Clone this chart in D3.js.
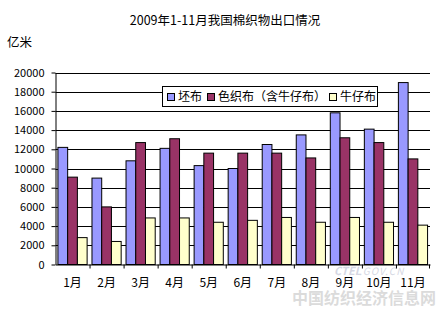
<!DOCTYPE html>
<html>
<head>
<meta charset="utf-8">
<script src="https://cdn.jsdelivr.net/npm/d3@7"></script>
<style>
  html, body { margin: 0; padding: 0; background: #fff; }
  svg { display: block; }
  text { font-family: "Noto Sans CJK SC", "DejaVu Sans", sans-serif; }
</style>
</head>
<body>
<script>
// Monthly cotton fabric exports, 2009 Jan–Nov (unit: 亿米)
const months = ["1月", "2月", "3月", "4月", "5月", "6月", "7月", "8月", "9月", "10月", "11月"];
const seriesNames = ["坯布", "色织布（含牛仔布）", "牛仔布"];
const greyCloth = [12200, 9000, 10800, 12100, 10300, 10000, 12500, 13500, 15800, 14100, 18950];
const yarnDyed = [9100, 6000, 12700, 13100, 11600, 11600, 11600, 11100, 13200, 12700, 11000];
const denim = [2800, 2400, 4850, 4850, 4400, 4600, 4900, 4400, 4900, 4400, 4100];
const yTicks = [0, 2000, 4000, 6000, 8000, 10000, 12000, 14000, 16000, 18000, 20000];
const colors = ["#9999ff", "#993366", "#ffffcc"];

const W = 446, H = 333;
const plot = { left: 55.5, right: 430, top: 72.5, bottom: 264.5 };

const svg = d3.select("body").append("svg").attr("width", W).attr("height", H);

const x = d3.scaleBand().domain(months).range([plot.left, plot.right]).paddingInner(0).paddingOuter(0);
const xs = d3.scaleBand().domain(d3.range(3)).range([0, x.bandwidth()]).paddingInner(0).paddingOuter(0.25);
const y = d3.scaleLinear().domain([0, 20000]).range([plot.bottom, plot.top]);

// title and unit
svg.append("text").attr("x", 225).attr("y", 25).attr("text-anchor", "middle")
  .attr("font-size", 12.5).text("2009年1-11月我国棉织物出口情况");
svg.append("text").attr("x", 7).attr("y", 47).attr("font-size", 12.5).text("亿米");

// gridlines
svg.append("g").selectAll("line").data(yTicks.filter(d => d > 0)).join("line")
  .attr("x1", plot.left).attr("x2", plot.right)
  .attr("y1", d => Math.round(y(d)) + 0.5).attr("y2", d => Math.round(y(d)) + 0.5)
  .attr("stroke", "#000").attr("stroke-width", 1);

// site watermark (drawn beneath the bars' labels)
const wm = svg.append("g").attr("opacity", 0.35);
wm.append("text").attr("x", 334).attr("y", 275).attr("font-size", 11).attr("font-style", "italic")
  .attr("font-weight", "bold").attr("fill", "#8890b0").attr("font-family", "'Liberation Serif', serif").text("CTEL");
wm.append("text").attr("x", 359).attr("y", 275).attr("font-size", 10).attr("font-style", "italic")
  .attr("fill", "#8890b0").attr("letter-spacing", 1).attr("font-family", "'Liberation Serif', serif").text(".GOV.CN");
wm.append("text").attr("x", 364).attr("y", 304).attr("text-anchor", "middle").attr("font-size", 16)
  .attr("font-weight", "bold").attr("fill", "#9a9a9a").text("中国纺织经济信息网");

// bars
const data = months.map((m, i) => ({ m, v: [greyCloth[i], yarnDyed[i], denim[i]] }));
const groups = svg.append("g").selectAll("g").data(data).join("g")
  .attr("transform", d => `translate(${x(d.m)},0)`);
groups.selectAll("rect").data(d => d.v.map((v, k) => ({ v, k }))).join("rect")
  .attr("x", d => xs(d.k))
  .attr("width", xs.bandwidth())
  .attr("y", d => y(d.v))
  .attr("height", d => y(0) - y(d.v))
  .attr("fill", d => colors[d.k])
  .attr("stroke", "#000").attr("stroke-width", 1);

// y axis
const yAxis = svg.append("g").attr("transform", `translate(${plot.left},0)`)
  .call(d3.axisLeft(y).tickValues(yTicks).tickSize(4).tickSizeOuter(0).tickFormat(d3.format("d")));
yAxis.select(".domain").attr("stroke", "#000");
yAxis.selectAll("text").attr("font-size", 11).attr("fill", "#000").attr("x", -11)
  .attr("font-family", "'DejaVu Sans Mono', monospace");

// x axis
const xAxis = svg.append("g").attr("transform", `translate(0,${plot.bottom})`)
  .call(d3.axisBottom(x).tickSize(0).tickSizeOuter(0));
xAxis.select(".domain").attr("stroke", "#000");
xAxis.selectAll("text").attr("font-size", 12).attr("fill", "#000").attr("dy", 0).attr("y", 22);
svg.append("g").selectAll("line").data(months.slice(1).concat(["end"])).join("line")
  .attr("x1", d => d === "end" ? plot.right - 0.5 : x(d) + 0.5)
  .attr("x2", d => d === "end" ? plot.right - 0.5 : x(d) + 0.5)
  .attr("y1", plot.bottom).attr("y2", plot.bottom + 4).attr("stroke", "#000");

// legend
const lg = svg.append("g");
lg.append("rect").attr("x", 162.5).attr("y", 86.5).attr("width", 215).attr("height", 20)
  .attr("fill", "#fff").attr("stroke", "#000");
const legendX = [167, 207, 329];
seriesNames.forEach((name, k) => {
  lg.append("rect").attr("x", legendX[k] + 0.5).attr("y", 93.5).attr("width", 7).attr("height", 7)
    .attr("fill", colors[k]).attr("stroke", "#000");
  lg.append("text").attr("x", legendX[k] + 11).attr("y", 101).attr("font-size", 12).text(name);
});
</script>
</body>
</html>
